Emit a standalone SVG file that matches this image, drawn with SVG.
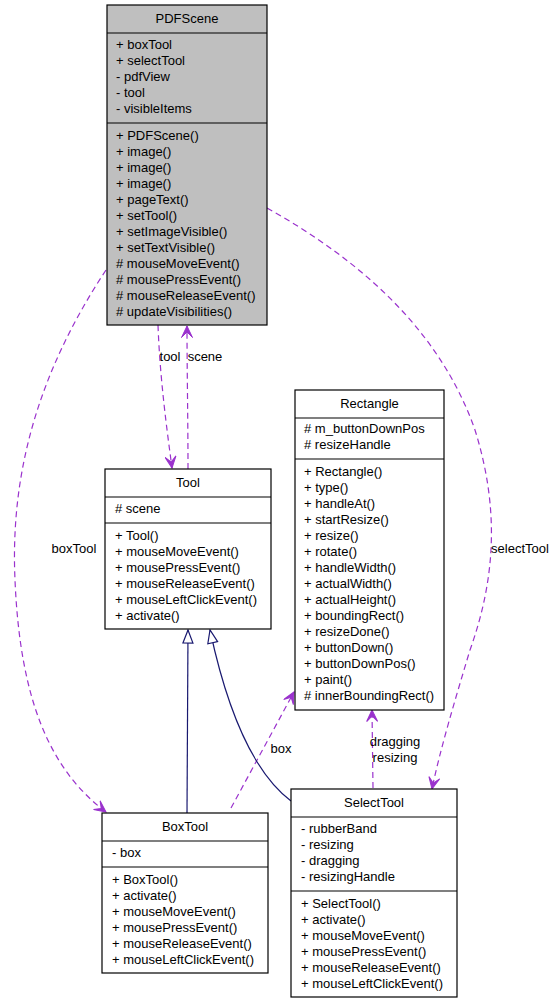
<svg xmlns="http://www.w3.org/2000/svg" width="553" height="1003" viewBox="0 0 553 1003">
<style>
text{font-family:"Liberation Sans",Arial,Helvetica,sans-serif;font-size:13px;fill:#000}
.t{text-anchor:middle}
.box{fill:#fff;stroke:#000;stroke-width:1.2}
.grey{fill:#bfbfbf}
.sep{stroke:#000;stroke-width:1.2}
.use{fill:none;stroke:#9a32cd;stroke-width:1.2;stroke-dasharray:6,4}
.inh{fill:none;stroke:#191970;stroke-width:1.2}
.lbl{text-anchor:middle}
</style>
<defs>
<marker id="vee" viewBox="0 0 13 12" refX="12" refY="6" markerWidth="13" markerHeight="12" markerUnits="userSpaceOnUse" orient="auto">
<path d="M12,6 L0.5,0.5 L6,6 L0.5,11.5 Z" fill="#9a32cd" stroke="#9a32cd" stroke-width="1"/>
</marker>
<marker id="tri" viewBox="0 0 15 12" refX="14" refY="6" markerWidth="15" markerHeight="12" markerUnits="userSpaceOnUse" orient="auto">
<path d="M14,6 L1,1 L1,11 Z" fill="#fff" stroke="#191970" stroke-width="1.2"/>
</marker>
</defs>
<rect width="553" height="1003" fill="#fff"/>

<g id="connectors">
<path class="use" d="M158,325 C160,380 167,430 172,468" marker-end="url(#vee)"/>
<path class="use" d="M188,469 C188,420 187,370 187,326" marker-end="url(#vee)"/>
<path class="use" d="M106,270 C40,370 10,470 15,580 C20,700 50,770 106,812" marker-end="url(#vee)"/>
<path class="use" d="M267,208 C360,260 440,330 475,430 C500,510 495,580 470,650 C455,700 440,750 432,789" marker-end="url(#vee)"/>
<path class="use" d="M231,808 L294,692" marker-end="url(#vee)"/>
<path class="use" d="M373,788 L372,710" marker-end="url(#vee)"/>
<path class="inh" d="M187,813 L188,630" marker-end="url(#tri)"/>
<path class="inh" d="M291,801 C250,770 225,700 210,630" marker-end="url(#tri)"/>
<text class="lbl" x="170" y="361">tool</text>
<text class="lbl" x="205" y="361">scene</text>
<text class="lbl" x="74" y="553">boxTool</text>
<text class="lbl" x="520" y="553">selectTool</text>
<text class="lbl" x="281" y="753">box</text>
<text class="lbl" x="395" y="746">dragging</text>
<text class="lbl" x="395" y="762">resizing</text>
</g>

<g id="PDFScene">
<rect class="box grey" x="107" y="5" width="160" height="320"/>
<line class="sep" x1="107" y1="33" x2="267" y2="33"/>
<line class="sep" x1="107" y1="123" x2="267" y2="123"/>
<text class="t" x="187" y="23">PDFScene</text>
<text x="116" y="49">+ boxTool</text>
<text x="116" y="65">+ selectTool</text>
<text x="116" y="81">- pdfView</text>
<text x="116" y="97">- tool</text>
<text x="116" y="113">- visibleItems</text>
<text x="116" y="140">+ PDFScene()</text>
<text x="116" y="156">+ image()</text>
<text x="116" y="172">+ image()</text>
<text x="116" y="188">+ image()</text>
<text x="116" y="204">+ pageText()</text>
<text x="116" y="220">+ setTool()</text>
<text x="116" y="236">+ setImageVisible()</text>
<text x="116" y="252">+ setTextVisible()</text>
<text x="116" y="268"># mouseMoveEvent()</text>
<text x="116" y="284"># mousePressEvent()</text>
<text x="116" y="300"># mouseReleaseEvent()</text>
<text x="116" y="316"># updateVisibilities()</text>
</g>

<g id="Tool">
<rect class="box" x="105" y="469" width="166" height="160"/>
<line class="sep" x1="105" y1="497" x2="271" y2="497"/>
<line class="sep" x1="105" y1="523" x2="271" y2="523"/>
<text class="t" x="188" y="487">Tool</text>
<text x="115" y="513"># scene</text>
<text x="115" y="540">+ Tool()</text>
<text x="115" y="556">+ mouseMoveEvent()</text>
<text x="115" y="572">+ mousePressEvent()</text>
<text x="115" y="588">+ mouseReleaseEvent()</text>
<text x="115" y="604">+ mouseLeftClickEvent()</text>
<text x="115" y="620">+ activate()</text>
</g>

<g id="Rectangle">
<rect class="box" x="295" y="390" width="149" height="320"/>
<line class="sep" x1="295" y1="418" x2="444" y2="418"/>
<line class="sep" x1="295" y1="459" x2="444" y2="459"/>
<text class="t" x="369.5" y="408">Rectangle</text>
<text x="304" y="433"># m_buttonDownPos</text>
<text x="304" y="449"># resizeHandle</text>
<text x="304" y="476">+ Rectangle()</text>
<text x="304" y="492">+ type()</text>
<text x="304" y="508">+ handleAt()</text>
<text x="304" y="524">+ startResize()</text>
<text x="304" y="540">+ resize()</text>
<text x="304" y="556">+ rotate()</text>
<text x="304" y="572">+ handleWidth()</text>
<text x="304" y="588">+ actualWidth()</text>
<text x="304" y="604">+ actualHeight()</text>
<text x="304" y="620">+ boundingRect()</text>
<text x="304" y="636">+ resizeDone()</text>
<text x="304" y="652">+ buttonDown()</text>
<text x="304" y="668">+ buttonDownPos()</text>
<text x="304" y="684">+ paint()</text>
<text x="304" y="700"># innerBoundingRect()</text>
</g>

<g id="BoxTool">
<rect class="box" x="102" y="813" width="166" height="160"/>
<line class="sep" x1="102" y1="841" x2="268" y2="841"/>
<line class="sep" x1="102" y1="867" x2="268" y2="867"/>
<text class="t" x="185" y="831">BoxTool</text>
<text x="112" y="857">- box</text>
<text x="112" y="884">+ BoxTool()</text>
<text x="112" y="900">+ activate()</text>
<text x="112" y="916">+ mouseMoveEvent()</text>
<text x="112" y="932">+ mousePressEvent()</text>
<text x="112" y="948">+ mouseReleaseEvent()</text>
<text x="112" y="964">+ mouseLeftClickEvent()</text>
</g>

<g id="SelectTool">
<rect class="box" x="291" y="789" width="166" height="208"/>
<line class="sep" x1="291" y1="817" x2="457" y2="817"/>
<line class="sep" x1="291" y1="891" x2="457" y2="891"/>
<text class="t" x="374" y="807">SelectTool</text>
<text x="301" y="833">- rubberBand</text>
<text x="301" y="849">- resizing</text>
<text x="301" y="865">- dragging</text>
<text x="301" y="881">- resizingHandle</text>
<text x="301" y="908">+ SelectTool()</text>
<text x="301" y="924">+ activate()</text>
<text x="301" y="940">+ mouseMoveEvent()</text>
<text x="301" y="956">+ mousePressEvent()</text>
<text x="301" y="972">+ mouseReleaseEvent()</text>
<text x="301" y="988">+ mouseLeftClickEvent()</text>
</g>
</svg>
